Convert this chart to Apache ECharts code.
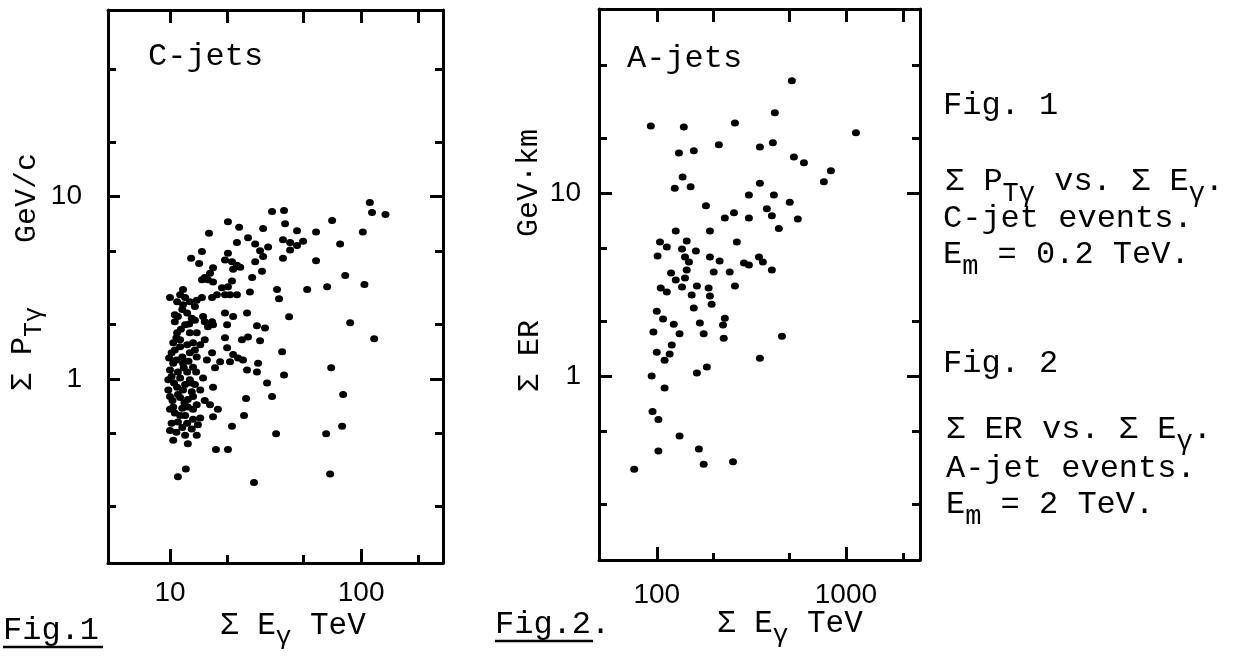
<!DOCTYPE html>
<html lang="en">
<head>
<meta charset="UTF-8">
<title>C-jets / A-jets</title>
<style>
  html, body { margin: 0; padding: 0; background: #fff; }
  #chart { width: 1246px; height: 657px; }
</style>
</head>
<body>
<div id="chart"></div>
<script src="https://cdn.jsdelivr.net/npm/echarts@6/dist/echarts.min.js"></script>
<script>
// Fig.1 C-jets : [sum E_gamma (TeV), sum P_T_gamma (GeV/c)]
var cjets = [
  [111, 9.3], [114, 8.2], [134, 8.0], [34.2, 8.3], [39.5, 8.4], [20.1, 7.3], [23.0, 6.8], [16.0, 6.3], [30.7, 6.7], [40, 7.1],
  [46.2, 6.5], [58.1, 6.4], [70.5, 7.4], [102, 6.4], [25.6, 5.95], [22.4, 5.6], [27.9, 5.5], [32.6, 5.3], [39, 5.8], [42.5, 5.6],
  [49.7, 5.7], [42.5, 5.1], [46.2, 5.4], [77.6, 5.5], [14.7, 5.0], [12.9, 4.6], [14.2, 4.3], [20.1, 4.9], [19.4, 4.5], [21.1, 4.4],
  [22.4, 4.2], [23.3, 4.1], [21.4, 4.0], [29.6, 5.05], [30.7, 4.7], [39, 4.6], [27.9, 4.4], [58.1, 4.45], [16.8, 4.07], [16.2, 3.8],
  [15.2, 3.6], [14.7, 3.5], [15.8, 3.5], [16.8, 3.4], [26.9, 3.6], [30.3, 3.9], [82.5, 3.7], [21.1, 3.45], [20.1, 3.2], [18.7, 3.16],
  [19.4, 2.9], [17.6, 2.9], [16.6, 2.8], [20.6, 2.9], [22.4, 2.9], [26.2, 3.0], [36.3, 3.1], [37.2, 2.75], [52.2, 3.1], [66.4, 3.2],
  [104, 3.3], [11.7, 3.1], [11.3, 2.9], [10, 2.8], [10.9, 2.65], [11.7, 2.55], [12.7, 2.65], [13.8, 2.7], [14.7, 2.8], [13.5, 2.5],
  [11.6, 2.4], [11.0, 2.2], [10.6, 2.06], [12.3, 2.3], [19.4, 2.3], [21.4, 2.2], [25.3, 2.3], [14.9, 2.2], [16.6, 2.06], [16.8, 1.98],
  [15.8, 1.93], [15.2, 2.06], [19.9, 1.98], [28.5, 1.96], [31.4, 1.9], [42.0, 2.19], [87.6, 2.03], [12.7, 1.79], [13.8, 1.79], [10.9, 1.79],
  [25.6, 1.7], [19.4, 1.68], [117, 1.66], [23.8, 1.64], [29.6, 1.62], [10.4, 1.58], [11.3, 1.5], [12.3, 1.54], [13.2, 1.58], [19.9, 1.48],
  [16.6, 1.39], [21.4, 1.36], [22.7, 1.3], [20.6, 1.24], [24.1, 1.27], [10.2, 1.39], [11.6, 1.32], [12.7, 1.39], [13.8, 1.32], [18.3, 1.24],
  [17.2, 1.15], [25.3, 1.12], [28.9, 1.22], [28.5, 1.09], [38.6, 1.41], [10.4, 1.22], [11.7, 1.22], [13.2, 1.16], [12.3, 1.09], [10.2, 1.03],
  [11.3, 1.01], [12.7, 0.99], [14.9, 1.01], [69.7, 1.15], [39.5, 1.05], [32.2, 0.95], [16.8, 0.9], [9.8, 0.87], [10.9, 0.9], [11.7, 0.87],
  [13.0, 0.85], [10, 0.8], [11.3, 0.79], [12.4, 0.77], [13.2, 0.8], [15.2, 0.76], [16.2, 0.72], [17.8, 0.68], [25, 0.78], [34.2, 0.8],
  [80.5, 0.82], [10.4, 0.7], [11.6, 0.69], [10.6, 0.65], [12.0, 0.63], [13.2, 0.68], [13.8, 0.72], [16.8, 0.62], [24.4, 0.63], [11.0, 0.58],
  [12.3, 0.57], [13.2, 0.6], [14.4, 0.61], [10, 0.52], [11.6, 0.54], [13.0, 0.53], [13.8, 0.49], [21.1, 0.55], [35.9, 0.5], [65.6, 0.5],
  [79.5, 0.55], [10.4, 0.46], [12.4, 0.44], [17.4, 0.41], [20.1, 0.41], [12.1, 0.32], [11.0, 0.29], [27.5, 0.27], [68.8, 0.3],
  [10.6, 1.44], [12.0, 0.93], [11.0, 0.82], [12.4, 0.7], [11.3, 0.63], [10.2, 0.57], [12.0, 0.49], [10.8, 0.51], [13.5, 0.93], [10, 1.12],
  [13.5, 1.44], [12.0, 1.98], [11.3, 1.64], [13.5, 2.1], [10, 0.68], [10.8, 1.27], [11.0, 1.09], [13.7, 1.09], [14.4, 0.87], [9.8, 0.99],
  [12.0, 2.8], [13.0, 2.15], [14.4, 1.54], [15.6, 1.27], [15.2, 1.64], [14.0, 0.56], [10.6, 2.25],
  [9.9, 1.3], [10.5, 0.95], [11.8, 1.15], [12.5, 1.25], [10.3, 0.76], [11.9, 0.74], [12.9, 0.95], [11.4, 1.87], [12.6, 2.0], [10.8, 1.68]
];

// Fig.2 A-jets : [sum E_gamma (TeV), sum ER (GeV km)]
var ajets = [
  [93, 23.2], [139, 22.9], [259, 24.1], [351, 17.8], [131, 16.5], [157, 17.0], [213, 18.3], [137, 12.2], [124.5, 10.6], [151, 10.8],
  [351, 11.3], [307, 9.75], [182, 8.5], [229, 7.3], [256, 7.8], [307, 7.3], [126, 6.2], [191, 6.2], [265, 5.4], [104, 5.4],
  [113, 5.07], [101, 4.52], [144, 5.47], [136, 4.94], [161, 4.82], [141, 4.47], [148, 4.2], [144, 3.79], [141, 3.43], [191, 4.47],
  [215, 4.25], [200, 3.7], [243, 3.7], [289, 4.14], [347, 4.47], [119, 3.65], [126, 3.35], [136, 3.06], [105, 3.03], [113, 2.88],
  [163, 3.1], [188, 3.03], [191, 2.74], [195, 2.47], [259, 3.1], [153, 2.77], [157, 2.35], [100, 2.26], [108, 2.05], [123, 1.92],
  [169, 1.95], [229, 2.07], [224, 1.9], [96, 1.74], [132, 1.7], [177, 1.7], [226, 1.61], [351, 1.25], [120, 1.48], [100, 1.35],
  [110, 1.22], [163, 1.04], [184, 1.12], [94, 1.0], [110, 0.86], [95, 0.64], [102, 0.58], [132, 0.47], [102, 0.39], [167, 0.40],
  [177, 0.33], [253, 0.34], [76, 0.31], [518, 41], [421, 27.4], [1130, 21.3], [411, 18.8], [531, 15.7], [600, 14.6], [833, 13.2],
  [765, 11.5], [416, 9.75], [505, 8.9], [382, 8.2], [406, 7.5], [557, 7.2], [442, 6.4], [406, 3.8], [459, 1.65], [117, 1.32],
  [307, 4.04], [364, 4.2]
];

// tick positions
var yMajor = [1, 10];
var yMinor = [0.2, 0.5, 2, 5, 20, 50];
var yMinorRight2 = [0.2, 0.5, 2, 20, 50];
var x1Major = [10, 100];
var x1Minor = [20, 50, 200];
var x2Major = [100, 1000];
var x2Minor = [200, 500, 2000];

var INK = '#000';
var MONO = '"Liberation Mono", "DejaVu Sans Mono", monospace';
var SANS = '"Liberation Sans", Arial, sans-serif';

function logAxis(grid, pos, range, ticks, len, labels, margin, line) {
  return {
    type: 'log', logBase: 10, gridIndex: grid, position: pos,
    min: range[0], max: range[1],
    axisLine: { show: line, onZero: false, lineStyle: { color: INK, width: 3 } },
    axisTick: { show: true, inside: true, length: len, customValues: ticks,
      lineStyle: { color: INK, width: 3 } },
    axisLabel: labels ? {
      show: true, customValues: labels, margin: margin, color: INK,
      fontFamily: SANS, fontSize: 28,
      formatter: function (v) { return String(+(+v).toPrecision(6)); }
    } : { show: false },
    splitLine: { show: false },
    minorTick: { show: false }
  };
}

var xr1 = [4.74, 268], yr1 = [0.0975, 106];
var xr2 = [49.5, 2465], yr2 = [0.099, 101];

var xAxes = [
  logAxis(0, 'bottom', xr1, x1Major, 14, x1Major, 16, true),
  logAxis(0, 'bottom', xr1, x1Minor, 8, null, 0, false),
  logAxis(0, 'top', xr1, x1Major.concat(x1Minor), 13, null, 0, true),
  logAxis(1, 'bottom', xr2, x2Major, 13, x2Major, 21, true),
  logAxis(1, 'bottom', xr2, x2Minor, 7, null, 0, false),
  logAxis(1, 'top', xr2, x2Major.concat(x2Minor), 13, null, 0, true)
];
var yAxes = [
  logAxis(0, 'left', yr1, yMajor, 12, yMajor, 26, true),
  logAxis(0, 'left', yr1, yMinor, 8, null, 0, false),
  logAxis(0, 'right', yr1, yMajor, 13, null, 0, true),
  logAxis(0, 'right', yr1, yMinor, 8, null, 0, false),
  logAxis(1, 'left', yr2, yMajor, 13, yMajor, 18, true),
  logAxis(1, 'left', yr2, yMinor, 8, null, 0, false),
  logAxis(1, 'right', yr2, yMajor, 13, null, 0, true),
  logAxis(1, 'right', yr2, yMinorRight2, 8, null, 0, false)
];

function txt(x, y, text, size, rot, align) {
  return {
    type: 'text', x: x, y: y, rotation: rot || 0, silent: true,
    style: {
      text: text, textAlign: align || 'left', textVerticalAlign: 'middle',
      fill: INK, font: size + 'px ' + MONO,
      rich: {
        s: { fill: INK, font: Math.round(size * 0.84) + 'px ' + MONO,
             padding: [Math.round(size * 0.72), 0, 0, 0] }
      }
    }
  };
}
function underline(x1, x2, y) {
  return { type: 'line', silent: true, shape: { x1: x1, y1: y, x2: x2, y2: y },
           style: { stroke: INK, lineWidth: 2.5 } };
}

var R = Math.PI / 2;
var graphics = [
  txt(148, 57, 'C-jets', 32),
  txt(627, 59, 'A-jets', 32),
  // axis names, left panel
  txt(23, 349, 'Σ P{s|Tγ}', 30, R, 'center'),
  txt(27, 198, 'GeV/c', 30, R, 'center'),
  txt(220, 626, 'Σ E{s|γ} TeV', 31),
  txt(3, 631, 'Fig.1', 32),
  underline(3, 103, 647),
  // axis names, right panel
  txt(530, 356, 'Σ ER', 30, R, 'center'),
  txt(529, 183, 'GeV·km', 30, R, 'center'),
  txt(717, 624, 'Σ E{s|γ} TeV', 31),
  txt(495, 625, 'Fig.2.', 32),
  underline(495, 593, 641),
  // captions
  txt(943, 106, 'Fig. 1', 32),
  txt(945, 182, 'Σ P{s|Tγ} vs. Σ E{s|γ}.', 32),
  txt(943, 219, 'C-jet events.', 32),
  txt(943, 255, 'E{s|m} = 0.2 TeV.', 32),
  txt(943, 364, 'Fig. 2', 32),
  txt(946, 430, 'Σ ER vs. Σ E{s|γ}.', 32),
  txt(946, 469, 'A-jet events.', 32),
  txt(946, 505, 'E{s|m} = 2 TeV.', 32)
];

var chart = echarts.init(document.getElementById('chart'), null, { renderer: 'canvas' });
chart.setOption({
  backgroundColor: '#fff',
  animation: false,
  grid: [
    { left: 108, top: 10, width: 335, height: 553, outerBoundsMode: 'none', containLabel: false },
    { left: 599, top: 9, width: 321, height: 551, outerBoundsMode: 'none', containLabel: false }
  ],
  xAxis: xAxes,
  yAxis: yAxes,
  series: [
    { type: 'scatter', xAxisIndex: 0, yAxisIndex: 0, data: cjets, symbol: 'circle',
      symbolSize: [8, 7], itemStyle: { color: INK, opacity: 1 }, silent: true },
    { type: 'scatter', xAxisIndex: 3, yAxisIndex: 4, data: ajets, symbol: 'circle',
      symbolSize: [8, 7], itemStyle: { color: INK, opacity: 1 }, silent: true }
  ],
  graphic: graphics
});
</script>
</body>
</html>
